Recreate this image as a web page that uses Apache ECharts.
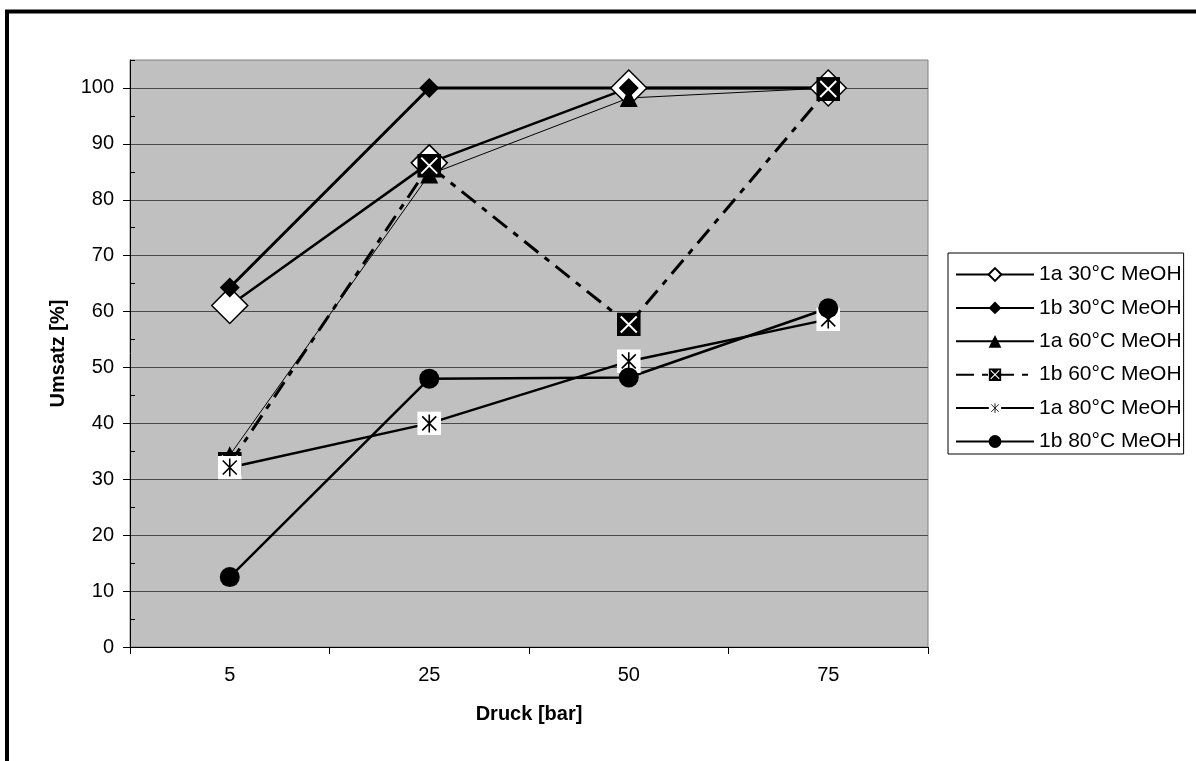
<!DOCTYPE html>
<html>
<head>
<meta charset="utf-8">
<script src="https://cdn.jsdelivr.net/npm/echarts@6/dist/echarts.min.js"></script>
<style>
  html, body { margin: 0; padding: 0; background: #fff; overflow: hidden; }
  #chart { width: 1196px; height: 761px; }
</style>
</head>
<body>
<div id="chart"></div>
<script>
// pressure categories (bar)
const categories = ["5", "25", "50", "75"];
const yTicks = [0, 10, 20, 30, 40, 50, 60, 70, 80, 90, 100];
const yMinorTicks = [5, 15, 25, 35, 45, 55, 65, 75, 85, 95, 105];

// Umsatz [%] per series
const s1a30 = [61.1, 86.6, 100, 100];
const s1b30 = [64.3, 100, 100, 100];
const s1a60 = [34.3, 84.5, 98.2, 100];
const s1b60 = [32.8, 86.1, 57.7, 99.8];
const s1a80 = [32.1, 40.0, 51.1, 58.6];
const s1b80 = [12.5, 48.0, 48.2, 60.6];

const svg = s => "image://data:image/svg+xml;charset=utf-8," + encodeURIComponent(s);
const squareX = svg("<svg xmlns='http://www.w3.org/2000/svg' width='24' height='24' viewBox='0 0 24 24'>" +
  "<rect width='24' height='24' fill='black'/>" +
  "<path d='M4 4L20 20M20 4L4 20' stroke='white' stroke-width='2'/></svg>");
const asterisk = svg("<svg xmlns='http://www.w3.org/2000/svg' width='24' height='24' viewBox='0 0 24 24'>" +
  "<rect width='24' height='24' fill='white'/>" +
  "<path d='M5 5L19 19M19 5L5 19M12 3V21' stroke='black' stroke-width='1.6'/></svg>");

const font = "'Liberation Sans', Arial, sans-serif";
const chart = echarts.init(document.getElementById("chart"));

function line(name, data, opts) {
  return Object.assign({
    name: name,
    type: "line",
    data: data,
    animation: false,
    lineStyle: { color: "#000", width: 2.5 },
    itemStyle: { color: "#000" }
  }, opts);
}

var option = {
  animation: false,
  backgroundColor: "#fff",
  textStyle: { fontFamily: font, color: "#000" },
  grid: {
    left: 130, top: 60, right: 268, bottom: 114,
    show: true,
    backgroundColor: "#c0c0c0",
    borderColor: "#808080",
    borderWidth: 1
  },
  legend: {
    left: 948,
    top: 253,
    orient: "vertical",
    backgroundColor: "#fff",
    borderColor: "#000",
    borderWidth: 1,
    borderRadius: 0,
    padding: [11, 2, 2, 7],
    itemWidth: 78,
    itemHeight: 16,
    itemGap: 12.4,
    textStyle: { fontFamily: font, fontSize: 21, color: "#000" }
  },
  xAxis: {
    type: "category",
    data: categories,
    boundaryGap: true,
    name: "Druck [bar]",
    nameLocation: "middle",
    nameGap: 57,
    nameTextStyle: { fontFamily: font, fontSize: 20, fontWeight: "bold", color: "#000" },
    axisLine: { lineStyle: { color: "#000", width: 1 } },
    axisTick: { show: true, length: 7, lineStyle: { color: "#000" } },
    axisLabel: { margin: 18, fontFamily: font, fontSize: 20, color: "#000" },
    splitLine: { show: false }
  },
  yAxis: [
    {
      type: "value",
      min: 0,
      max: 105,
      name: "Umsatz [%]",
      nameLocation: "middle",
      nameGap: 62,
      nameTextStyle: { fontFamily: font, fontSize: 20, fontWeight: "bold", color: "#000" },
      axisLine: { show: true, lineStyle: { color: "#000", width: 1 } },
      axisTick: { show: true, length: 7, customValues: yTicks, lineStyle: { color: "#000" } },
      axisLabel: { margin: 16, customValues: yTicks, fontFamily: font, fontSize: 20, color: "#000" },
      splitLine: { show: true, lineStyle: { color: "#4a4a4a", width: 1 } }
    },
    {
      type: "value",
      min: 0,
      max: 105,
      position: "left",
      axisLine: { show: false },
      axisTick: { show: true, inside: true, length: 5, customValues: yMinorTicks, lineStyle: { color: "#000" } },
      axisLabel: { show: false },
      splitLine: { show: false }
    }
  ],
  graphic: [{
    type: "rect",
    shape: { x: 7, y: 11.5, width: 1400, height: 1000 },
    style: { fill: "none", stroke: "#000", lineWidth: 4 },
    silent: true
  }],
  series: [
    line("1a 30°C MeOH", s1a30, {
      symbol: "diamond", symbolSize: 36,
      itemStyle: { color: "#fff", borderColor: "#000", borderWidth: 1.5 },
      lineStyle: { color: "#000", width: 2.5 }
    }),
    line("1b 30°C MeOH", s1b30, {
      symbol: "diamond", symbolSize: 20,
      lineStyle: { color: "#000", width: 3 }
    }),
    line("1a 60°C MeOH", s1a60, {
      symbol: "triangle", symbolSize: 18,
      lineStyle: { color: "#000", width: 1 }
    }),
    line("1b 60°C MeOH", s1b60, {
      symbol: squareX, symbolSize: 24,
      lineStyle: { color: "#000", width: 3, type: [18, 8, 6, 8] }
    }),
    line("1a 80°C MeOH", s1a80, {
      symbol: asterisk, symbolSize: 24,
      lineStyle: { color: "#000", width: 2.5 }
    }),
    line("1b 80°C MeOH", s1b80, {
      symbol: "circle", symbolSize: 20,
      lineStyle: { color: "#000", width: 2.5 }
    })
  ]
};

chart.setOption(option);
</script>
</body>
</html>
